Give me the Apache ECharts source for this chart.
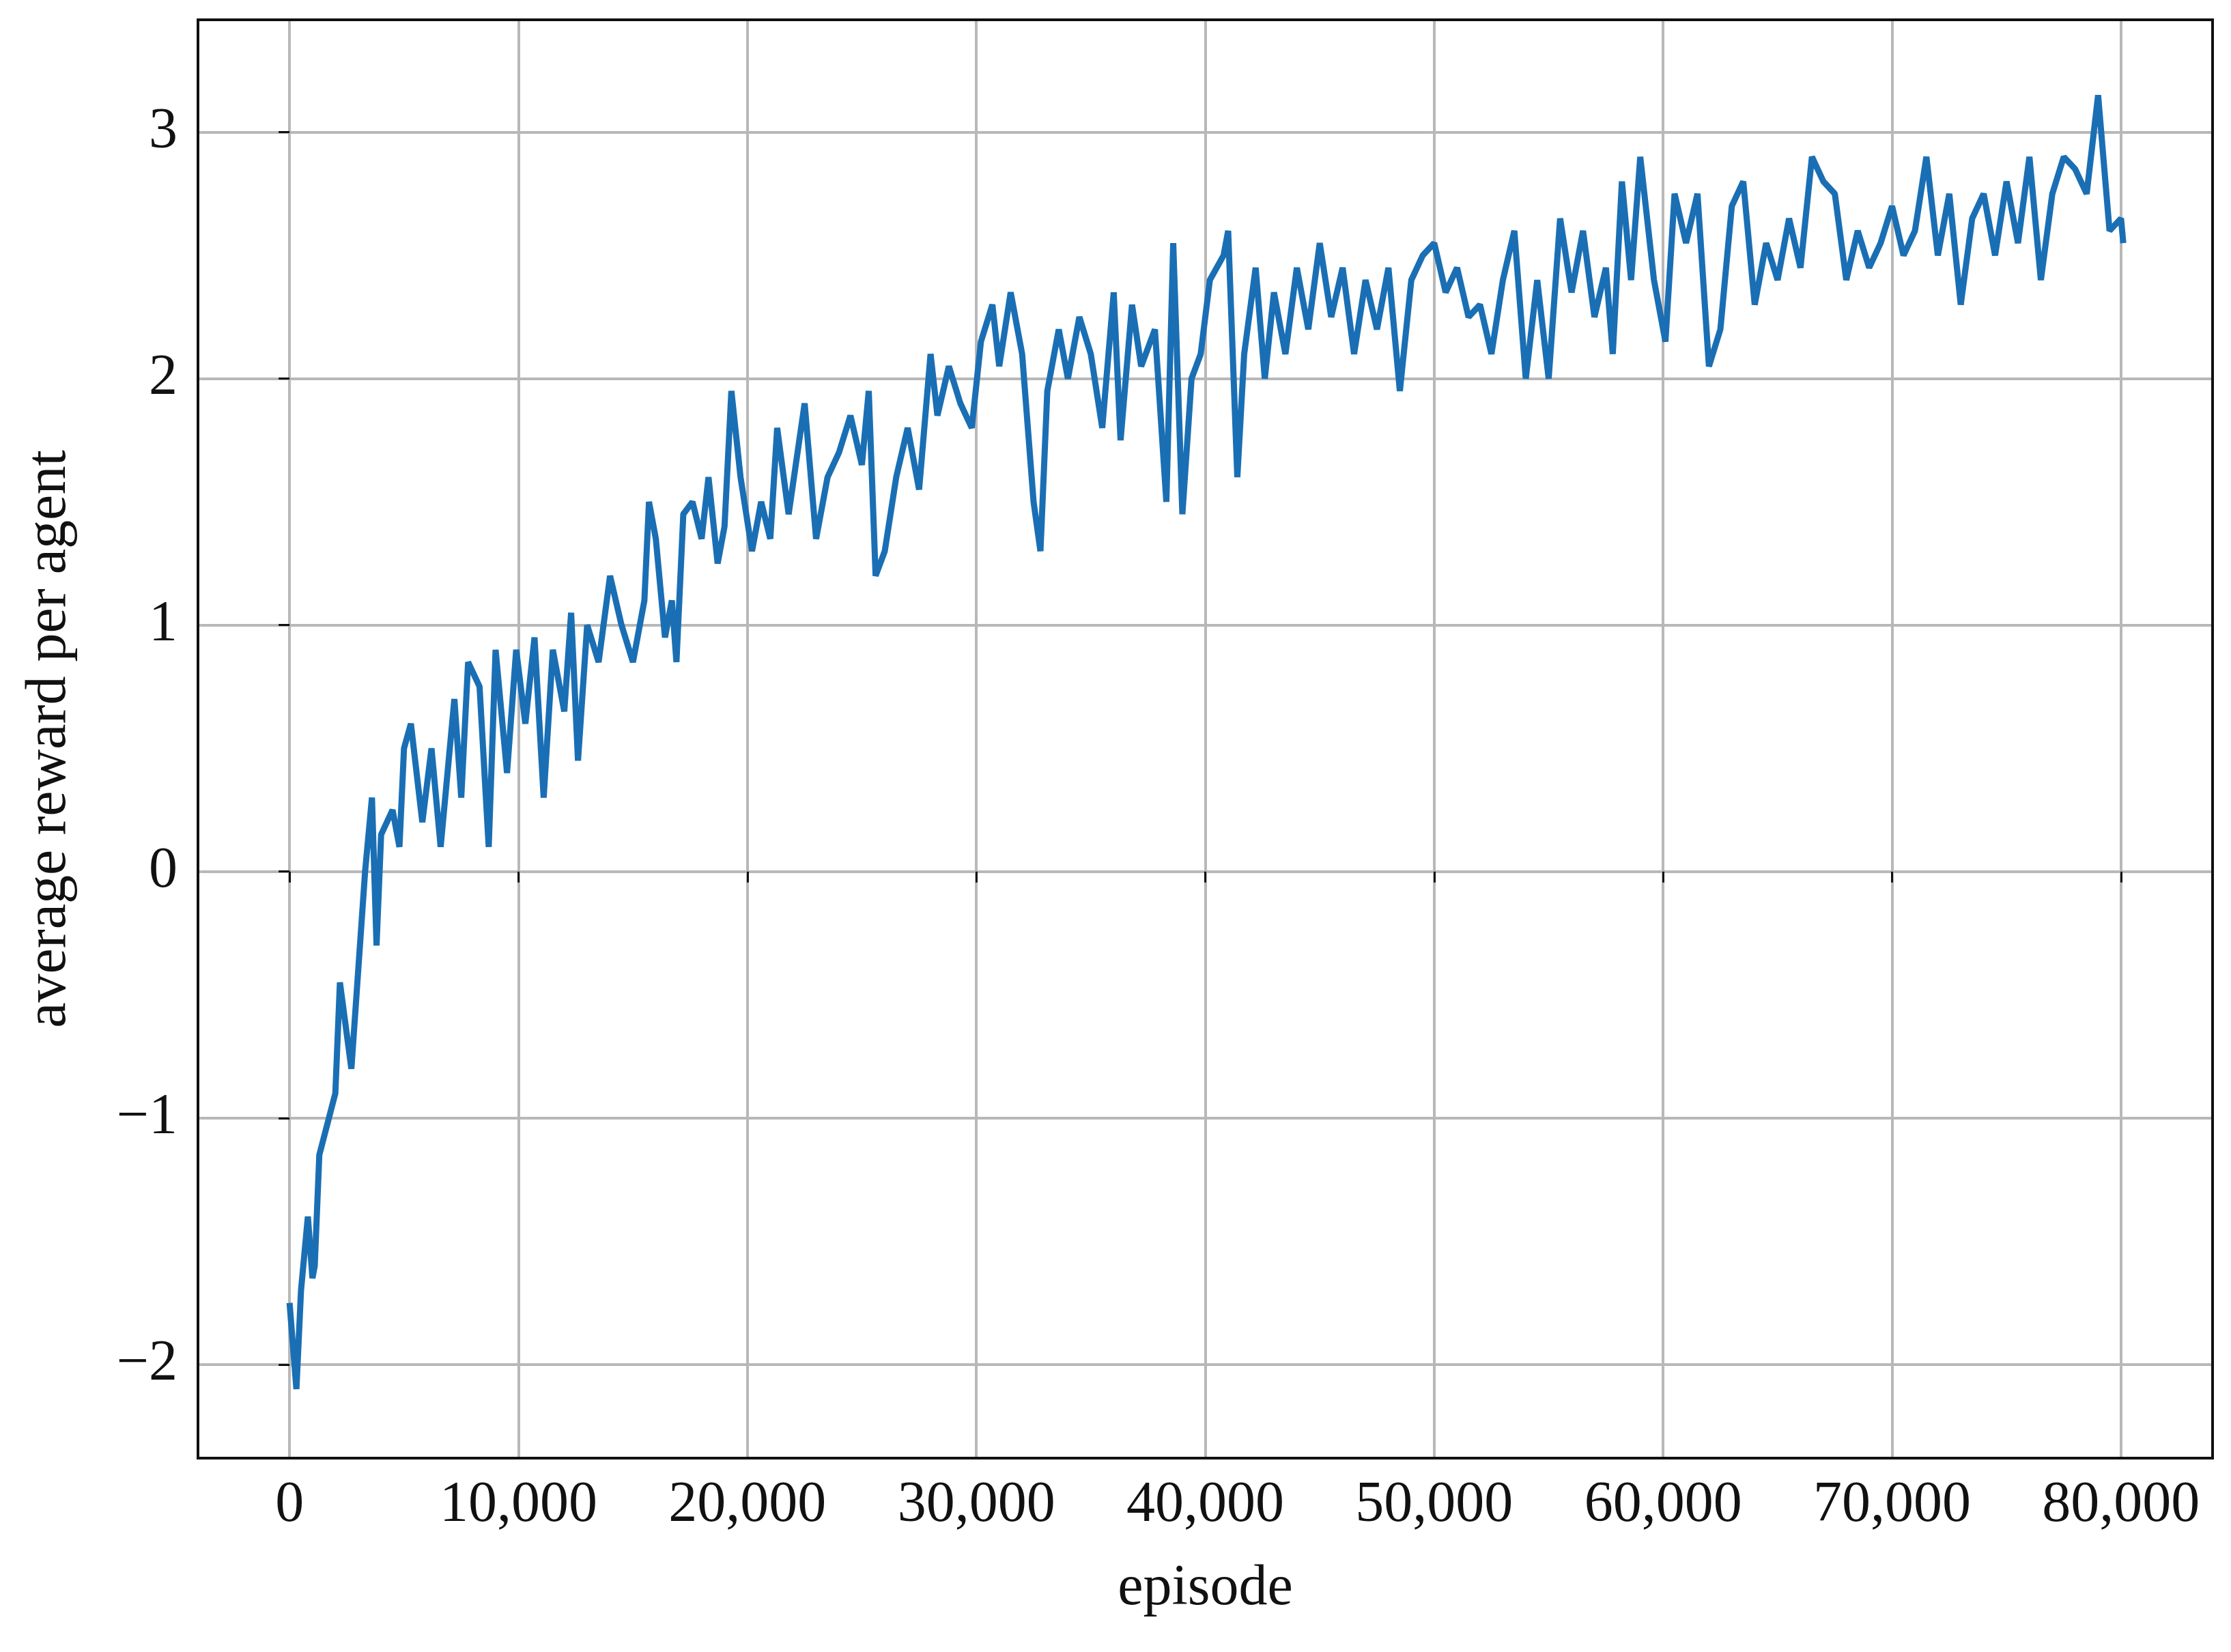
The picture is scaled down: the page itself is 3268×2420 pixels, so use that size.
<!DOCTYPE html>
<html>
<head>
<meta charset="UTF-8">
<script src="https://cdn.jsdelivr.net/npm/echarts@6/dist/echarts.min.js"></script>
<style>
html, body { margin: 0; padding: 0; background: #fff; }
#chart { width: 3268px; height: 2420px; }
</style>
</head>
<body>
<div id="chart"></div>
<script>
// 数据：episode 与 平均奖励
var episodes = [0,300,500,800,1000,1100,1300,2000,2200,2700,3000,3300,3600,3800,4000,
  4500,4800,5000,5300,5800,6200,6600,7200,7500,7800,8300,8700,9000,9500,9900,
  10300,10700,11100,11500,12000,12300,12600,13000,13500,14000,14500,15000,15500,15700,16000,
  16400,16700,16900,17200,17600,18000,18300,18700,19000,19300,19700,20200,20600,21000,21300,
  21800,22500,23000,23500,24000,24500,25000,25300,25600,26000,26500,27000,27500,28000,28300,
  28800,29300,29800,30200,30700,31000,31500,32000,32500,32800,33100,33600,34000,34500,35000,
  35500,36000,36300,36800,37200,37800,38300,38600,39000,39400,39800,40200,40800,41000,41400,
  41700,42200,42600,43000,43500,44000,44500,45000,45500,46000,46500,47000,47500,48000,48500,
  49000,49500,50000,50500,51000,51500,52000,52500,53000,53500,54000,54500,55000,55500,56000,
  56500,57000,57500,57800,58200,58600,59000,59600,60100,60500,61000,61500,62000,62500,63000,
  63500,64000,64500,65000,65500,66000,66500,67000,67500,68000,68500,69000,69500,70000,70500,
  71000,71500,72000,72500,73000,73500,74000,74500,75000,75500,76000,76500,77000,77500,78000,
  78500,79000,79500,80000,80100];
var rewards = [-1.75,-2.1,-1.7,-1.4,-1.65,-1.6,-1.15,-0.9,-0.45,-0.8,-0.4,0.0,0.3,-0.3,0.15,
  0.25,0.1,0.5,0.6,0.2,0.5,0.1,0.7,0.3,0.85,0.75,0.1,0.9,0.4,0.9,
  0.6,0.95,0.3,0.9,0.65,1.05,0.45,1.0,0.85,1.2,1.0,0.85,1.1,1.5,1.35,
  0.95,1.1,0.85,1.45,1.5,1.35,1.6,1.25,1.4,1.95,1.6,1.3,1.5,1.35,1.8,
  1.45,1.9,1.35,1.6,1.7,1.85,1.65,1.95,1.2,1.3,1.6,1.8,1.55,2.1,1.85,
  2.05,1.9,1.8,2.15,2.3,2.05,2.35,2.1,1.5,1.3,1.95,2.2,2.0,2.25,2.1,
  1.8,2.35,1.75,2.3,2.05,2.2,1.5,2.55,1.45,2.0,2.1,2.4,2.5,2.6,1.6,
  2.1,2.45,2.0,2.35,2.1,2.45,2.2,2.55,2.25,2.45,2.1,2.4,2.2,2.45,1.95,
  2.4,2.5,2.55,2.35,2.45,2.25,2.3,2.1,2.4,2.6,2.0,2.4,2.0,2.65,2.35,
  2.6,2.25,2.45,2.1,2.8,2.4,2.9,2.4,2.15,2.75,2.55,2.75,2.05,2.2,2.7,
  2.8,2.3,2.55,2.4,2.65,2.45,2.9,2.8,2.75,2.4,2.6,2.45,2.55,2.7,2.5,
  2.6,2.9,2.5,2.75,2.3,2.65,2.75,2.5,2.8,2.55,2.9,2.4,2.75,2.9,2.85,
  2.75,3.15,2.6,2.65,2.55];
var xTicks = [0, 10000, 20000, 30000, 40000, 50000, 60000, 70000, 80000];
var yTicks = [-2, -1, 0, 1, 2, 3];

var points = episodes.map(function (e, i) { return [e, rewards[i]]; });
var font = 'Liberation Serif';
var L = 290, R = 27, T = 29, B = 284;

var chart = echarts.init(document.getElementById('chart'));
chart.setOption({
    animation: false,
    grid: { left: L, right: R, top: T, bottom: B },
    xAxis: {
        type: 'value', min: -4000, max: 84000,
        name: 'episode', nameLocation: 'middle', nameGap: 150,
        nameTextStyle: { fontFamily: font, fontSize: 84, color: '#111' },
        axisLine: { show: false },
        axisTick: { show: true, length: 16, customValues: xTicks,
            lineStyle: { color: '#111', width: 3 } },
        axisLabel: {
            fontFamily: font, fontSize: 84, color: '#111', margin: 28,
            customValues: xTicks,
            formatter: function (v) { return v.toLocaleString('en-US'); }
        },
        splitLine: { show: true, lineStyle: { color: '#b8b8b8', width: 4 } }
    },
    yAxis: {
        type: 'value', min: -2.38, max: 3.456,
        name: 'average reward per agent', nameLocation: 'middle', nameGap: 175,
        nameTextStyle: { fontFamily: font, fontSize: 84, color: '#111' },
        axisLine: { show: false },
        axisTick: { show: true, length: 16, customValues: yTicks,
            lineStyle: { color: '#111', width: 3 } },
        axisLabel: {
            fontFamily: font, fontSize: 84, color: '#111', margin: 30,
            customValues: yTicks,
            formatter: function (v) { return v < 0 ? '\u2212' + Math.abs(v) : String(v); }
        },
        splitLine: { show: true, lineStyle: { color: '#b8b8b8', width: 4 } }
    },
    series: [{
        type: 'line', data: points, showSymbol: false,
        lineStyle: { color: '#1a6fb4', width: 9 }
    }],
    graphic: [{
        type: 'rect', z: 100,
        shape: { x: L, y: T, width: 3268 - L - R, height: 2420 - T - B },
        style: { fill: 'none', stroke: '#111', lineWidth: 4 }, silent: true
    }]
});
</script>
</body>
</html>
